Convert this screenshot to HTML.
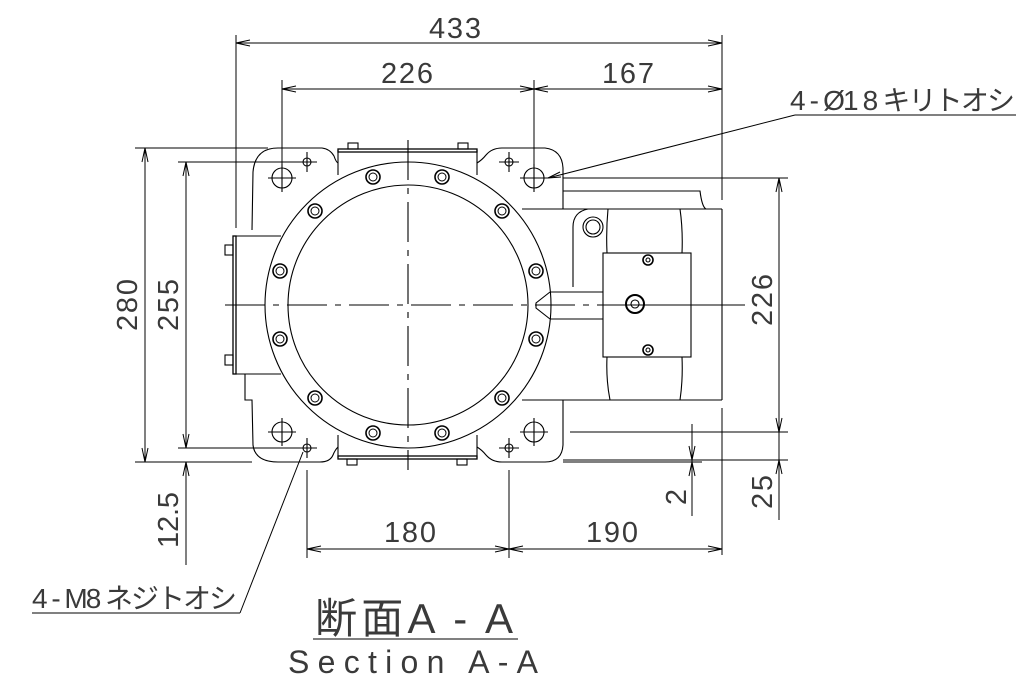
<!DOCTYPE html>
<html><head><meta charset="utf-8"><style>
html,body{margin:0;padding:0;background:#fff;}
svg{display:block;}
text{font-family:"Liberation Sans","Noto Sans CJK JP",sans-serif;fill:#3a3a3a;}
</style></head><body>
<svg width="1034" height="675" viewBox="0 0 1034 675" xmlns="http://www.w3.org/2000/svg">
<defs>
<g id="b" stroke="#000" fill="none"><circle r="7" stroke-width="1.6"/><circle r="4" stroke-width="1"/></g>
</defs>
<g stroke="#000" stroke-width="1.1" fill="none">
<!-- center lines -->
<line x1="225" y1="305" x2="745" y2="305" stroke-dasharray="40,8,6,8"/>
<line x1="408" y1="140" x2="408" y2="470" stroke-dasharray="40,8,6,8"/>
<!-- body outline -->
<path d="M252,230 L253,172 Q255,148 278,148 L322,148 Q330,149 334,156 Q336,162 338,163"/>
<path d="M477,163 Q482,160 486,155 Q492,148 502,148 L545,148 Q562,150 563,168 L563,209"/>
<path d="M563,191 L700,191 Q702,207 706,209"/>
<line x1="522" y1="209" x2="722" y2="209"/>
<line x1="722" y1="209" x2="722" y2="400"/>
<line x1="522" y1="400" x2="722" y2="400"/>
<path d="M563,400 L563,445 Q562,462 545,462 L502,462 Q492,462 486,455 Q482,450 477,447"/>
<path d="M338,447 Q335,450 333,455 Q330,462 320,462 L278,462 Q255,462 253,445 L252,400 L245,400 L245,374"/>
<!-- left box + plate -->
<line x1="236" y1="236" x2="281" y2="236"/>
<line x1="236" y1="374" x2="281" y2="374"/>
<rect x="233" y="236" width="3" height="138" stroke-width="1.3"/>
<rect x="225" y="245" width="8" height="10"/>
<rect x="225" y="355" width="8" height="10"/>
<!-- housing top/bottom -->
<line x1="338" y1="150" x2="338" y2="175"/>
<line x1="477" y1="150" x2="477" y2="175"/>
<rect x="338" y="149" width="139" height="3" stroke-width="1.3"/>
<rect x="348" y="143" width="10" height="6"/>
<rect x="458" y="143" width="10" height="6"/>
<line x1="338" y1="435" x2="338" y2="458"/>
<line x1="477" y1="435" x2="477" y2="458"/>
<rect x="338" y="456" width="139" height="3" stroke-width="1.3"/>
<rect x="347" y="459" width="10" height="6"/>
<rect x="457" y="459" width="10" height="6"/>
<!-- flange -->
<circle cx="408" cy="305" r="143"/>
<circle cx="408" cy="305" r="120"/>
<!-- shaft & neck -->
<path d="M550,292 L603,292 M550,319 L603,319 M550,292 L536,303 L536,308 L550,319"/>
<!-- motor -->
<path d="M608,209 Q606,230 607,253 M607,357 Q606,380 610,400 M680,209 Q683,230 682,253 M682,357 Q683,380 680,400"/>
<path d="M573,227 Q573,212 588,209 M573,227 L573,287"/>
<circle cx="593" cy="227" r="10"/><circle cx="593" cy="227" r="7"/>
<rect x="603" y="253" width="88" height="104" fill="#fff"/>
<circle cx="648" cy="260" r="5" stroke-width="1.6"/><circle cx="648" cy="260" r="2"/>
<circle cx="648" cy="350" r="5" stroke-width="1.6"/><circle cx="648" cy="350" r="2"/>
<circle cx="635" cy="304" r="9" stroke-width="2"/><circle cx="635" cy="304" r="4"/>
<line x1="603" y1="305" x2="740" y2="305"/>
</g>
<!-- flange bolts -->
<use href="#b" x="373" y="177"/><use href="#b" x="442" y="177"/>
<use href="#b" x="315" y="211"/><use href="#b" x="502" y="211"/>
<use href="#b" x="280" y="271"/><use href="#b" x="536" y="271"/>
<use href="#b" x="280" y="339"/><use href="#b" x="536" y="339"/>
<use href="#b" x="315" y="398"/><use href="#b" x="502" y="398"/>
<use href="#b" x="373" y="433"/><use href="#b" x="442" y="433"/>
<g stroke="#000" fill="none" stroke-width="1.1">
<!-- mounting holes -->
<circle cx="282" cy="178" r="10"/><circle cx="534" cy="178" r="10"/>
<circle cx="282" cy="432" r="10"/><circle cx="534" cy="432" r="10"/>
<path d="M268,178 H296 M282,164 V192 M520,178 H548 M534,164 V192 M268,432 H296 M282,418 V446 M520,432 H548 M534,418 V446"/>
<circle cx="307" cy="162" r="4"/><circle cx="509" cy="162" r="4"/>
<circle cx="307" cy="448" r="4"/><circle cx="509" cy="448" r="4"/>
<path d="M297,162 H317 M307,152 V172 M499,162 H519 M509,152 V172 M297,448 H317 M307,438 V458 M499,448 H519 M509,438 V458"/>
</g>
<!-- dimensions -->
<g stroke="#000" stroke-width="1" fill="none">
<line x1="236" y1="35" x2="236" y2="228"/>
<line x1="722" y1="35" x2="722" y2="200"/>
<line x1="236" y1="43" x2="722" y2="43"/>
<path d="M236,43 l14,-3 M236,43 l14,3 M722,43 l-14,-3 M722,43 l-14,3"/>
<line x1="282" y1="80" x2="282" y2="170"/>
<line x1="534" y1="80" x2="534" y2="170"/>
<line x1="282" y1="89" x2="722" y2="89"/>
<path d="M282,89 l14,-3 M282,89 l14,3 M534,89 l-14,-3 M534,89 l-14,3 M534,89 l14,-3 M534,89 l14,3 M722,89 l-14,-3 M722,89 l-14,3"/>
<line x1="135" y1="148" x2="268" y2="148"/>
<line x1="135" y1="462" x2="252" y2="462"/>
<line x1="178" y1="162" x2="300" y2="162"/>
<line x1="178" y1="448" x2="300" y2="448"/>
<line x1="145" y1="148" x2="145" y2="462"/>
<path d="M145,148 l-3,14 M145,148 l3,14 M145,462 l-3,-14 M145,462 l3,-14"/>
<line x1="186" y1="162" x2="186" y2="448"/>
<path d="M186,162 l-3,14 M186,162 l3,14 M186,448 l-3,-14 M186,448 l3,-14"/>
<line x1="186" y1="462" x2="186" y2="565"/>
<path d="M186,462 l-3,14 M186,462 l3,14"/>
<line x1="563" y1="178" x2="788" y2="178"/>
<line x1="570" y1="432" x2="788" y2="432"/>
<line x1="563" y1="460" x2="788" y2="460"/>
<line x1="779" y1="178" x2="779" y2="520"/>
<path d="M779,178 l-3,14 M779,178 l3,14 M779,432 l-3,-14 M779,432 l3,-14 M779,460 l-3,14 M779,460 l3,14"/>
<line x1="722" y1="408" x2="722" y2="555"/>
<line x1="692" y1="424" x2="692" y2="516"/>
<path d="M692,460 l-3,-14 M692,460 l3,-14 M692,462 l-3,14 M692,462 l3,14"/>
<line x1="563" y1="462" x2="702" y2="462"/>
<line x1="307" y1="470" x2="307" y2="558"/>
<line x1="509" y1="470" x2="509" y2="558"/>
<line x1="307" y1="549" x2="722" y2="549"/>
<path d="M307,549 l14,-3 M307,549 l14,3 M509,549 l-14,-3 M509,549 l-14,3 M509,549 l14,-3 M509,549 l14,3 M722,549 l-14,-3 M722,549 l-14,3"/>
<line x1="795" y1="115" x2="1016" y2="115"/>
<line x1="795" y1="115" x2="548" y2="178"/>
<path d="M548,178 l12,-6 M548,178 l13,-1"/>
<line x1="32" y1="613" x2="240" y2="613"/>
<line x1="240" y1="613" x2="303" y2="452"/>
<line x1="313" y1="639" x2="518" y2="639"/>
</g>
<g font-size="29">
<text x="455" y="38" text-anchor="middle" textLength="52">433</text>
<text x="407" y="83" text-anchor="middle" textLength="52">226</text>
<text x="628" y="83" text-anchor="middle" textLength="52">167</text>
<text x="410" y="542" text-anchor="middle" textLength="52">180</text>
<text x="612" y="542" text-anchor="middle" textLength="52">190</text>
<text transform="translate(137,305) rotate(-90)" text-anchor="middle" textLength="52">280</text>
<text transform="translate(178,305) rotate(-90)" text-anchor="middle" textLength="52">255</text>
<text transform="translate(178,520) rotate(-90)" text-anchor="middle" textLength="56">12.5</text>
<text transform="translate(772,300) rotate(-90)" text-anchor="middle" textLength="52">226</text>
<text transform="translate(772,492) rotate(-90)" text-anchor="middle" textLength="34">25</text>
<text transform="translate(686,497) rotate(-90)" text-anchor="middle">2</text>
</g>
<text x="790" y="110" font-size="28" textLength="225">4 - Ø1 8 キリトオシ</text>
<text x="32" y="608" font-size="28" textLength="205">4 - M8 ネジトオシ</text>
<text x="315" y="633" font-size="42" textLength="198">断面A - A</text>
<text x="288" y="673" font-size="32" textLength="250">Section A-A</text>
</svg>
</body></html>
